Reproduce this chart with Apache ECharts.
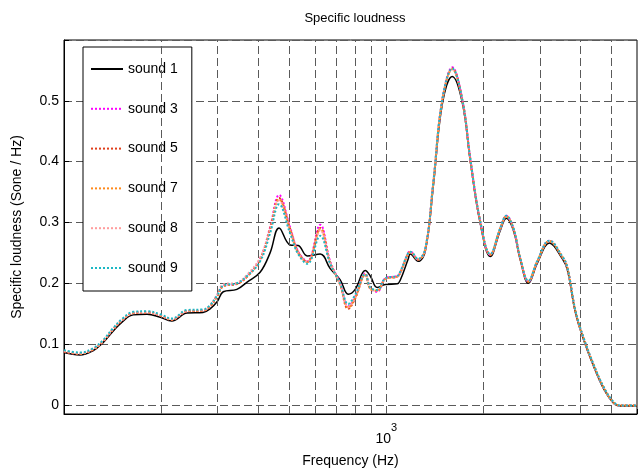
<!DOCTYPE html>
<html>
<head>
<meta charset="utf-8">
<script src="https://cdn.jsdelivr.net/npm/echarts@6/dist/echarts.min.js"></script>
<style>
  html, body { margin: 0; padding: 0; background: #fff; }
  #chart { width: 643px; height: 473px; }
</style>
</head>
<body>
<div id="chart"></div>
<script>
// frequency points (Hz), log axis
const freqs = [100,112,123,132,142,152,164,181,199,216,
  241,270,284,299,312,344,370,406,436,465,
  503,533,569,624,670,719,762,801,861,892,
  938,993,1082,1105,1170,1187,1256,1322,1400,1493,
  1603,1722,1824,1958,2103,2259,2359,2480,2607,2761,
  2944,3208,3521,3648,3864,4092,4396,4721,5070,5330,
  6000];

// specific loudness (Sone / Hz) for each sound
const sound1 = [0.086,0.082,0.089,0.102,0.121,0.137,0.148,0.149,0.144,0.138,
  0.151,0.152,0.158,0.170,0.186,0.190,0.202,0.218,0.250,0.291,
  0.263,0.262,0.245,0.248,0.224,0.206,0.182,0.190,0.221,0.212,
  0.193,0.198,0.199,0.205,0.240,0.248,0.236,0.253,0.360,0.495,
  0.540,0.497,0.400,0.298,0.244,0.287,0.307,0.287,0.238,0.200,
  0.233,0.266,0.240,0.222,0.152,0.108,0.064,0.027,0.003,-0.002,
  -0.002];
const sound3 = [0.088,0.084,0.091,0.104,0.124,0.140,0.151,0.152,0.147,0.140,
  0.154,0.155,0.162,0.180,0.196,0.199,0.212,0.240,0.292,0.345,
  0.292,0.252,0.236,0.296,0.236,0.200,0.162,0.178,0.216,0.192,
  0.186,0.208,0.212,0.218,0.250,0.252,0.239,0.256,0.366,0.502,
  0.555,0.502,0.404,0.301,0.247,0.290,0.311,0.290,0.240,0.203,
  0.236,0.270,0.243,0.225,0.154,0.110,0.066,0.029,0.004,-0.001,
  -0.001];
const sound5 = [0.088,0.084,0.091,0.104,0.124,0.140,0.151,0.152,0.147,0.140,
  0.154,0.155,0.162,0.179,0.195,0.199,0.211,0.239,0.290,0.340,
  0.290,0.251,0.235,0.291,0.234,0.198,0.158,0.175,0.214,0.191,
  0.188,0.207,0.211,0.217,0.249,0.251,0.239,0.256,0.365,0.501,
  0.553,0.501,0.403,0.301,0.247,0.290,0.310,0.290,0.240,0.203,
  0.236,0.269,0.243,0.225,0.154,0.110,0.066,0.029,0.004,-0.001,
  -0.001];
const sound7 = [0.088,0.084,0.091,0.104,0.124,0.140,0.151,0.152,0.147,0.140,
  0.154,0.155,0.162,0.179,0.195,0.199,0.211,0.239,0.288,0.338,
  0.288,0.250,0.235,0.289,0.234,0.198,0.160,0.176,0.214,0.191,
  0.188,0.207,0.211,0.217,0.249,0.251,0.239,0.256,0.365,0.501,
  0.552,0.501,0.403,0.301,0.247,0.290,0.310,0.290,0.240,0.203,
  0.236,0.269,0.243,0.225,0.154,0.110,0.066,0.029,0.004,-0.001,
  -0.001];
const sound8 = [0.089,0.085,0.092,0.105,0.125,0.141,0.152,0.153,0.148,0.141,
  0.155,0.156,0.164,0.182,0.198,0.201,0.214,0.242,0.288,0.336,
  0.286,0.250,0.235,0.287,0.234,0.199,0.161,0.177,0.215,0.192,
  0.188,0.207,0.211,0.217,0.249,0.251,0.239,0.256,0.365,0.501,
  0.552,0.501,0.403,0.301,0.247,0.290,0.310,0.290,0.240,0.203,
  0.236,0.269,0.243,0.225,0.154,0.110,0.066,0.029,0.004,-0.001,
  -0.001];
const sound9 = [0.090,0.086,0.093,0.106,0.126,0.142,0.153,0.154,0.149,0.142,
  0.156,0.157,0.164,0.180,0.196,0.200,0.212,0.236,0.282,0.330,
  0.282,0.248,0.232,0.278,0.232,0.200,0.166,0.181,0.215,0.193,
  0.189,0.208,0.212,0.219,0.250,0.252,0.240,0.257,0.366,0.502,
  0.553,0.502,0.404,0.302,0.248,0.291,0.311,0.291,0.241,0.204,
  0.237,0.270,0.244,0.226,0.155,0.111,0.067,0.030,0.005,-0.001,
  -0.001];

const seriesNames = ['sound 1', 'sound 3', 'sound 5', 'sound 7', 'sound 8', 'sound 9'];
const seriesData = [sound1, sound3, sound5, sound7, sound8, sound9];
const seriesColors = ['#000000', '#ff00ff', '#e0401c', '#ff8a1c', '#ff9c9c', '#1cb8c4'];

// vertical grid lines (MATLAB log grid)
const xGridLines = [200, 300, 400, 500, 600, 700, 800, 900, 1000, 2000, 3000, 4000, 5000];

const FONT = 'Liberation Sans, Arial, sans-serif';
const GRID_DASH = { color: '#5a5a5a', type: [8, 4], width: 1 };
const chart = echarts.init(document.getElementById('chart'));

const lineSeries = seriesNames.map((name, i) => ({
  name: name,
  type: 'line',
  data: freqs.map((f, j) => [f, seriesData[i][j]]),
  smooth: 0.4,
  symbol: 'none',
  lineStyle: {
    color: seriesColors[i],
    width: i === 0 ? 1.5 : 2,
    type: i === 0 ? 'solid' : [2, 2]
  },
  itemStyle: { color: seriesColors[i] },
  z: 3 + i
}));

chart.setOption({
  animation: false,
  backgroundColor: '#fff',
  title: {
    text: 'Specific loudness',
    left: 350,
    top: 7,
    textAlign: 'center',
    textStyle: { fontFamily: FONT, fontSize: 13, fontWeight: 'normal', color: '#000' }
  },
  grid: {
    left: 64, right: 6, top: 40, bottom: 56,
    show: true, borderColor: '#000', borderWidth: 1
  },
  legend: {
    orient: 'vertical',
    left: 83,
    top: 47,
    data: seriesNames,
    itemWidth: 32,
    itemHeight: 14,
    itemGap: 25.8,
    padding: [15, 14, 16, 7],
    backgroundColor: '#fff',
    borderColor: '#000',
    borderWidth: 1,
    borderRadius: 0,
    itemStyle: { opacity: 0 },
    textStyle: { fontFamily: FONT, fontSize: 14, color: '#000' }
  },
  xAxis: {
    type: 'log',
    logBase: 10,
    min: 100,
    max: 6000,
    name: 'Frequency (Hz)',
    nameLocation: 'middle',
    nameGap: 40,
    nameTextStyle: { fontFamily: FONT, fontSize: 14, color: '#000' },
    axisLine: { onZero: false, lineStyle: { color: '#000' } },
    axisTick: { inside: true, length: 5, lineStyle: { color: '#000' } },
    splitLine: { show: false },
    axisLabel: {
      margin: 8,
      formatter: v => (Math.abs(v - 1000) < 1 ? '{b|10}{s|3}' : ''),
      rich: {
        b: { fontFamily: FONT, fontSize: 14, color: '#000', lineHeight: 24, verticalAlign: 'bottom' },
        s: { fontFamily: FONT, fontSize: 11, color: '#000', verticalAlign: 'top' }
      }
    }
  },
  yAxis: {
    type: 'value',
    min: -0.015,
    max: 0.6,
    name: 'Specific loudness (Sone / Hz)',
    nameLocation: 'middle',
    nameGap: 40,
    nameTextStyle: { fontFamily: FONT, fontSize: 14, color: '#000' },
    axisLine: { show: true, lineStyle: { color: '#000' } },
    axisTick: { inside: true, length: 5, lineStyle: { color: '#000' } },
    axisLabel: {
      margin: 5,
      fontFamily: FONT, fontSize: 14, color: '#000',
      formatter: v => (v < -0.001 || v > 0.55 ? '' : String(Math.round(v * 10) / 10))
    },
    splitLine: { lineStyle: GRID_DASH }
  },
  series: [
    {
      // holder for vertical grid lines, drawn under the curves
      type: 'line',
      data: [],
      z: 1,
      silent: true,
      markLine: {
        silent: true,
        symbol: 'none',
        label: { show: false },
        lineStyle: GRID_DASH,
        data: xGridLines.map(v => ({ xAxis: v }))
      }
    }
  ].concat(lineSeries)
});
</script>
</body>
</html>
